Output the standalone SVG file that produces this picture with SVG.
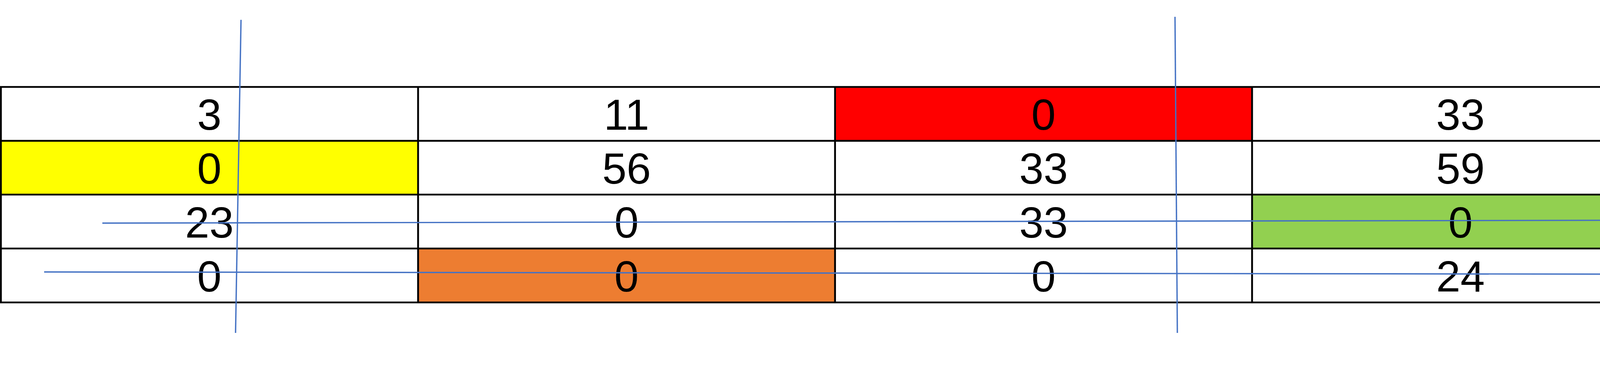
<svg xmlns="http://www.w3.org/2000/svg" width="5120" height="993" viewBox="0 0 5120 993">
<style>
.w{fill:#fff}
.y{fill:#FFFF00}
.r{fill:#FF0000}
.g{fill:#92D050}
.o{fill:#ED7D31}
.t{font-family:"Liberation Sans",Arial,sans-serif;font-size:112px;fill:#000;text-anchor:middle}
.k{stroke:#000;stroke-width:4.7;fill:none}
.b{stroke:#4472C4;stroke-width:3.4;fill:none}
</style>
<rect width="5120" height="993" fill="#fff"/>
<g id="row1">
<g id="r1c1"><rect class="w" x="2.3" y="222.5" width="1068" height="137.8"/><text class="t" x="536" y="332">3</text></g>
<g id="r1c2"><rect class="w" x="1070.3" y="222.5" width="1067.4" height="137.8"/><text class="t" x="1604" y="332">11</text></g>
<g id="r1c3"><rect class="r" x="2137.7" y="222.5" width="1067.6" height="137.8"/><text class="t" x="2671.5" y="332">0</text></g>
<g id="r1c4"><rect class="w" x="3205.3" y="222.5" width="1067" height="137.8"/><text class="t" x="3738.8" y="332">33</text></g>
</g>
<g id="row2">
<g id="r2c1"><rect class="y" x="2.3" y="360.3" width="1068" height="137.7"/><text class="t" x="536" y="470">0</text></g>
<g id="r2c2"><rect class="w" x="1070.3" y="360.3" width="1067.4" height="137.7"/><text class="t" x="1604" y="470">56</text></g>
<g id="r2c3"><rect class="w" x="2137.7" y="360.3" width="1067.6" height="137.7"/><text class="t" x="2671.5" y="470">33</text></g>
<g id="r2c4"><rect class="w" x="3205.3" y="360.3" width="1067" height="137.7"/><text class="t" x="3738.8" y="470">59</text></g>
</g>
<g id="row3">
<g id="r3c1"><rect class="w" x="2.3" y="498" width="1068" height="138"/><text class="t" x="536" y="608">23</text></g>
<g id="r3c2"><rect class="w" x="1070.3" y="498" width="1067.4" height="138"/><text class="t" x="1604" y="608">0</text></g>
<g id="r3c3"><rect class="w" x="2137.7" y="498" width="1067.6" height="138"/><text class="t" x="2671.5" y="608">33</text></g>
<g id="r3c4"><rect class="g" x="3205.3" y="498" width="1067" height="138"/><text class="t" x="3738.8" y="608">0</text></g>
</g>
<g id="row4">
<g id="r4c1"><rect class="w" x="2.3" y="636" width="1068" height="138"/><text class="t" x="536" y="746">0</text></g>
<g id="r4c2"><rect class="o" x="1070.3" y="636" width="1067.4" height="138"/><text class="t" x="1604" y="746">0</text></g>
<g id="r4c3"><rect class="w" x="2137.7" y="636" width="1067.6" height="138"/><text class="t" x="2671.5" y="746">0</text></g>
<g id="r4c4"><rect class="w" x="3205.3" y="636" width="1067" height="138"/><text class="t" x="3738.8" y="746">24</text></g>
</g>
<g id="grid">
<path class="k" d="M2.3 222.5H4272.3V774H2.3Z M2.3 360.3H4272.3 M2.3 498H4272.3 M2.3 636H4272.3 M1070.3 222.5V774 M2137.7 222.5V774 M3205.3 222.5V774"/>
</g>
<g id="lines">
<line class="b" x1="617" y1="50.7" x2="603" y2="852"/>
<line class="b" x1="3008" y1="43" x2="3014" y2="852"/>
<line class="b" x1="262" y1="571" x2="5070" y2="562"/>
<line class="b" x1="113" y1="696" x2="5115" y2="703"/>
</g>
</svg>
